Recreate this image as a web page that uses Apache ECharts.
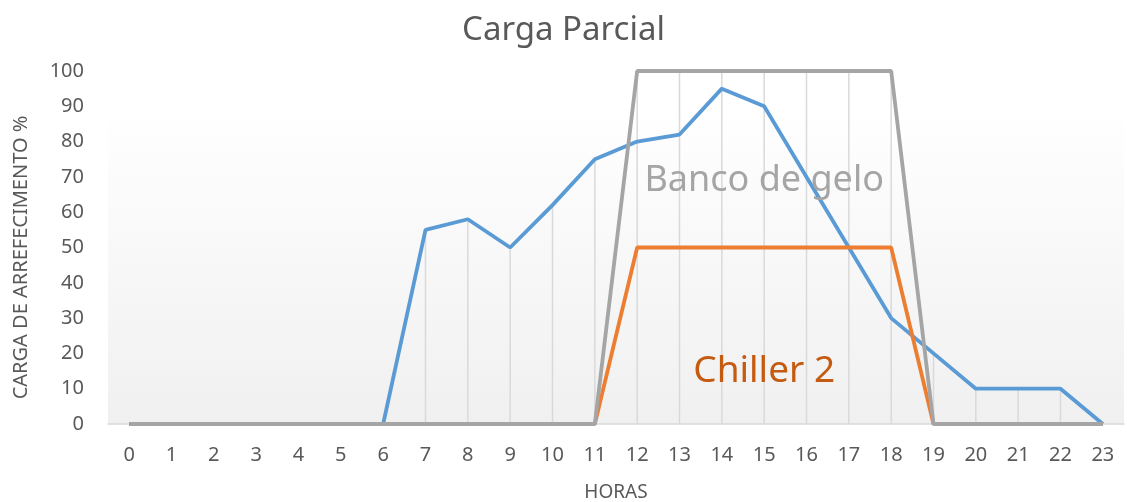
<!DOCTYPE html>
<html>
<head>
<meta charset="utf-8">
<script src="https://cdn.jsdelivr.net/npm/echarts@6/dist/echarts.min.js"></script>
<style>
  html, body { margin: 0; padding: 0; background: #fff; }
  #chart { width: 1127px; height: 502px; }
</style>
</head>
<body>
<div id="chart"></div>
<script>
// Hours of the day
const horas = ['0','1','2','3','4','5','6','7','8','9','10','11','12','13','14','15','16','17','18','19','20','21','22','23'];
// Cooling load profile (%)
const carga = [0,0,0,0,0,0,0,55,58,50,62,75,80,82,95,90,70,50,30,20,10,10,10,0];
// Ice bank share (%)
const bancoGelo = [0,0,0,0,0,0,0,0,0,0,0,0,100,100,100,100,100,100,100,0,0,0,0,0];
// Chiller 2 share (%)
const chiller2 = [0,0,0,0,0,0,0,0,0,0,0,0,50,50,50,50,50,50,50,0,0,0,0,0];
const yTicks = [0,10,20,30,40,50,60,70,80,90,100];

// Drop lines run from the highest series value down to the axis
const dropTops = horas.map((h, i) => Math.max(carga[i], bancoGelo[i], chiller2[i]));

const FONT = '"Noto Sans", sans-serif';
const chart = echarts.init(document.getElementById('chart'));

chart.setOption({
  animation: false,
  backgroundColor: '#ffffff',
  title: {
    text: 'Carga Parcial',
    left: 'center',
    top: 9,
    textStyle: { fontFamily: FONT, fontSize: 33, fontWeight: 'normal', color: '#595959' }
  },
  grid: {
    left: 108, right: 3, top: 71, bottom: 78,
    containLabel: false,
    outerBoundsMode: 'none',
    show: true,
    borderWidth: 0,
    backgroundColor: new echarts.graphic.LinearGradient(0, 0, 0, 1, [
      { offset: 0, color: '#ffffff' },
      { offset: 0.1, color: '#ffffff' },
      { offset: 1, color: '#f0f0f0' }
    ])
  },
  xAxis: {
    type: 'category',
    data: horas,
    boundaryGap: true,
    name: 'HORAS',
    nameLocation: 'middle',
    nameGap: 59,
    nameTextStyle: { fontFamily: FONT, fontSize: 19, color: '#595959' },
    axisLine: { show: true, lineStyle: { color: '#d9d9d9', width: 1.5 } },
    axisTick: { show: false },
    axisLabel: { fontFamily: FONT, fontSize: 20, color: '#595959', margin: 21, interval: 0 },
    splitLine: { show: false }
  },
  yAxis: {
    type: 'value',
    min: yTicks[0],
    max: yTicks[yTicks.length - 1],
    interval: 10,
    name: 'CARGA DE ARREFECIMENTO %',
    nameLocation: 'middle',
    nameRotate: 90,
    nameGap: 77,
    nameTextStyle: { fontFamily: FONT, fontSize: 20, color: '#595959', padding: [0, 20, 0, 0] },
    axisLine: { show: false },
    axisTick: { show: false },
    axisLabel: { fontFamily: FONT, fontSize: 20, color: '#595959', margin: 24 },
    splitLine: { show: false }
  },
  series: [
    {
      name: 'drop',
      type: 'custom',
      z: 1,
      silent: true,
      data: dropTops.map((v, i) => [i, v]),
      renderItem: function (params, api) {
        const top = api.coord([api.value(0), api.value(1)]);
        const base = api.coord([api.value(0), 0]);
        return {
          type: 'line',
          shape: { x1: top[0], y1: top[1], x2: base[0], y2: base[1] },
          style: { stroke: '#d9d9d9', lineWidth: 1.5 }
        };
      }
    },
    {
      name: 'Carga',
      type: 'line',
      data: carga,
      z: 3,
      symbol: 'none',
      lineStyle: { color: '#5b9bd5', width: 3.8 },
      itemStyle: { color: '#5b9bd5' }
    },
    {
      name: 'Chiller 2',
      type: 'line',
      data: chiller2,
      z: 4,
      symbol: 'none',
      lineStyle: { color: '#ed7d31', width: 3.8 },
      itemStyle: { color: '#ed7d31' },
      markPoint: {
        symbol: 'circle',
        symbolSize: 0,
        data: [{ coord: ['15', 15] }],
        label: {
          show: true, position: 'inside', formatter: 'Chiller 2',
          fontFamily: FONT, fontSize: 37, color: '#c55a11'
        }
      }
    },
    {
      name: 'Banco de gelo',
      type: 'line',
      data: bancoGelo,
      z: 5,
      symbol: 'none',
      lineStyle: { color: '#a5a5a5', width: 3.8 },
      itemStyle: { color: '#a5a5a5' },
      markPoint: {
        symbol: 'circle',
        symbolSize: 0,
        data: [{ coord: ['15', 69] }],
        label: {
          show: true, position: 'inside', formatter: 'Banco de gelo',
          fontFamily: FONT, fontSize: 36, color: '#a5a5a5'
        }
      }
    }
  ]
});
</script>
</body>
</html>
